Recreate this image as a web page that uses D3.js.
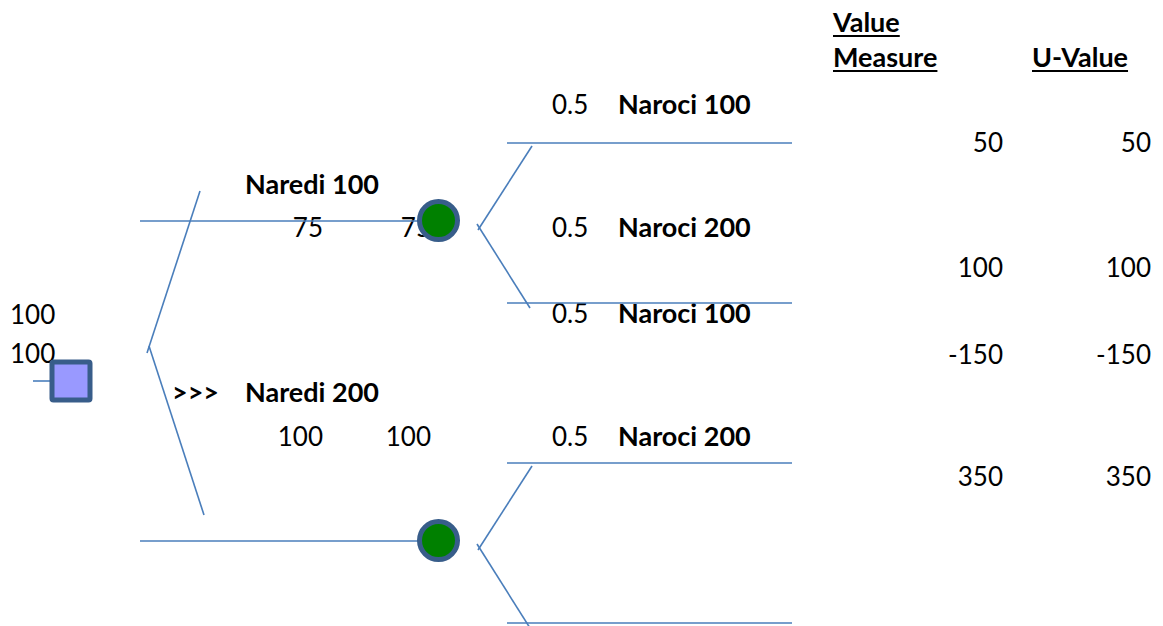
<!DOCTYPE html>
<html><head><meta charset="utf-8">
<script src="https://cdn.jsdelivr.net/npm/d3@7"></script>
<style>body{margin:0;background:#fff}svg{display:block}text{font-family:Lato,"Open Sans",sans-serif;font-size:26px;fill:#000}text.b{font-weight:bold;font-size:27px}</style>
</head><body>
<script>
// ---- data ----
const rootValues = [100, 100];
const decisionLabels = ["Naredi 100", "Naredi 200"];
const decisionEV = [75, 100];
const chosenMarker = ["", ">>>"];
const outcomeLabels = ["Naroci 100", "Naroci 200", "Naroci 100", "Naroci 200"];
const outcomeProbs = [0.5, 0.5, 0.5, 0.5];
const valueMeasure = [50, 100, -150, 350];
const uValue = [50, 100, -150, 350];
const headers = [["Value", "Measure"], ["U-Value"]];

// ---- layout ----
const W = 1163, H = 626;
const lineColor = "#4a7ebb", nodeStroke = "#385d8a";
const svg = d3.select("body").append("svg").attr("width", W).attr("height", H);
const yDec = d3.scaleLinear().domain([0, 1]).range([221, 541]);
const yOut = d3.scaleLinear().domain([0, 3]).range([143, 623]);
const yDecLabel = d3.scaleLinear().domain([0, 1]).range([194, 402]);
const yEVLabel = d3.scaleLinear().domain([0, 1]).range([237, 446]);
const yOutLabelPos = [114, 237, 323, 446];
const yValPos = [152, 277, 364, 486];
const root = {x: 71, y: 381};

const gText = svg.append("g"), gLines = svg.append("g"), gNodes = svg.append("g");

// root values
gText.selectAll(".rv").data(rootValues).join("text")
  .attr("x", 10).attr("y", (d, i) => [324, 363][i]).text(d => d);

// decision labels
decisionLabels.forEach((lab, j) => {
  gText.append("text").attr("class", "b").attr("x", 245).attr("y", yDecLabel(j)).text(lab);
  if (chosenMarker[j]) gText.append("text").attr("class", "b").attr("x", 172).attr("y", yDecLabel(j)).text(chosenMarker[j]);
  gText.append("text").attr("x", 323).attr("y", yEVLabel(j)).attr("text-anchor", "end").text(decisionEV[j]);
  gText.append("text").attr("x", 431).attr("y", yEVLabel(j)).attr("text-anchor", "end").text(decisionEV[j]);
});

// outcome labels
outcomeLabels.forEach((lab, i) => {
  gText.append("text").attr("x", 552).attr("y", yOutLabelPos[i]).text(outcomeProbs[i]);
  gText.append("text").attr("class", "b").attr("x", 618).attr("y", yOutLabelPos[i]).text(lab);
  gText.append("text").attr("x", 1003).attr("y", yValPos[i]).attr("text-anchor", "end").text(valueMeasure[i]);
  gText.append("text").attr("x", 1151).attr("y", yValPos[i]).attr("text-anchor", "end").text(uValue[i]);
});

// headers
const hx = [833, 1032];
headers.forEach((lines, k) => {
  lines.forEach((t, r) => {
    const y = lines.length === 2 ? [32, 67][r] : 67;
    const tx = gText.append("text").attr("class", "b").attr("x", hx[k]).attr("y", y).text(t);
    const w = tx.node().getComputedTextLength();
    gLines.append("line").attr("x1", hx[k]).attr("x2", hx[k] + w).attr("y1", y + 4).attr("y2", y + 4)
      .attr("stroke", "#000").attr("stroke-width", 2);
  });
});

const L = (x1, y1, x2, y2) => gLines.append("line").attr("x1", x1).attr("y1", y1).attr("x2", x2).attr("y2", y2)
  .attr("stroke", lineColor).attr("stroke-width", 1.6);

// root stub
L(33, root.y, 52, root.y);
// decision branches
const apex = {x: 148, y: 349};
L(apex.x - 1, apex.y + 4, 200, yDec(0) - 30);
L(apex.x + 1, apex.y - 3, 204, yDec(1) - 26);
decisionLabels.forEach((d, j) => {
  L(140, yDec(j), 432, yDec(j));
  const ay = yDec(j) + 6;
  const u = 2 * j, l = 2 * j + 1;
  L(478, ay + 3, 532, yOut(u) + 3);
  L(477, ay - 3, 530, yOut(l) + 5);
  L(507, yOut(u), 792, yOut(u));
  L(507, yOut(l), 792, yOut(l));
});

// nodes
gNodes.append("rect").attr("x", root.x - 19).attr("y", root.y - 19).attr("width", 38).attr("height", 38)
  .attr("rx", 1.5).attr("fill", "#9999ff").attr("stroke", nodeStroke).attr("stroke-width", 5);
decisionLabels.forEach((d, j) => {
  gNodes.append("circle").attr("cx", 438.5).attr("cy", yDec(j) - 0.5).attr("r", 19)
    .attr("fill", "#008000").attr("stroke", nodeStroke).attr("stroke-width", 5);
});
</script>
</body></html>
